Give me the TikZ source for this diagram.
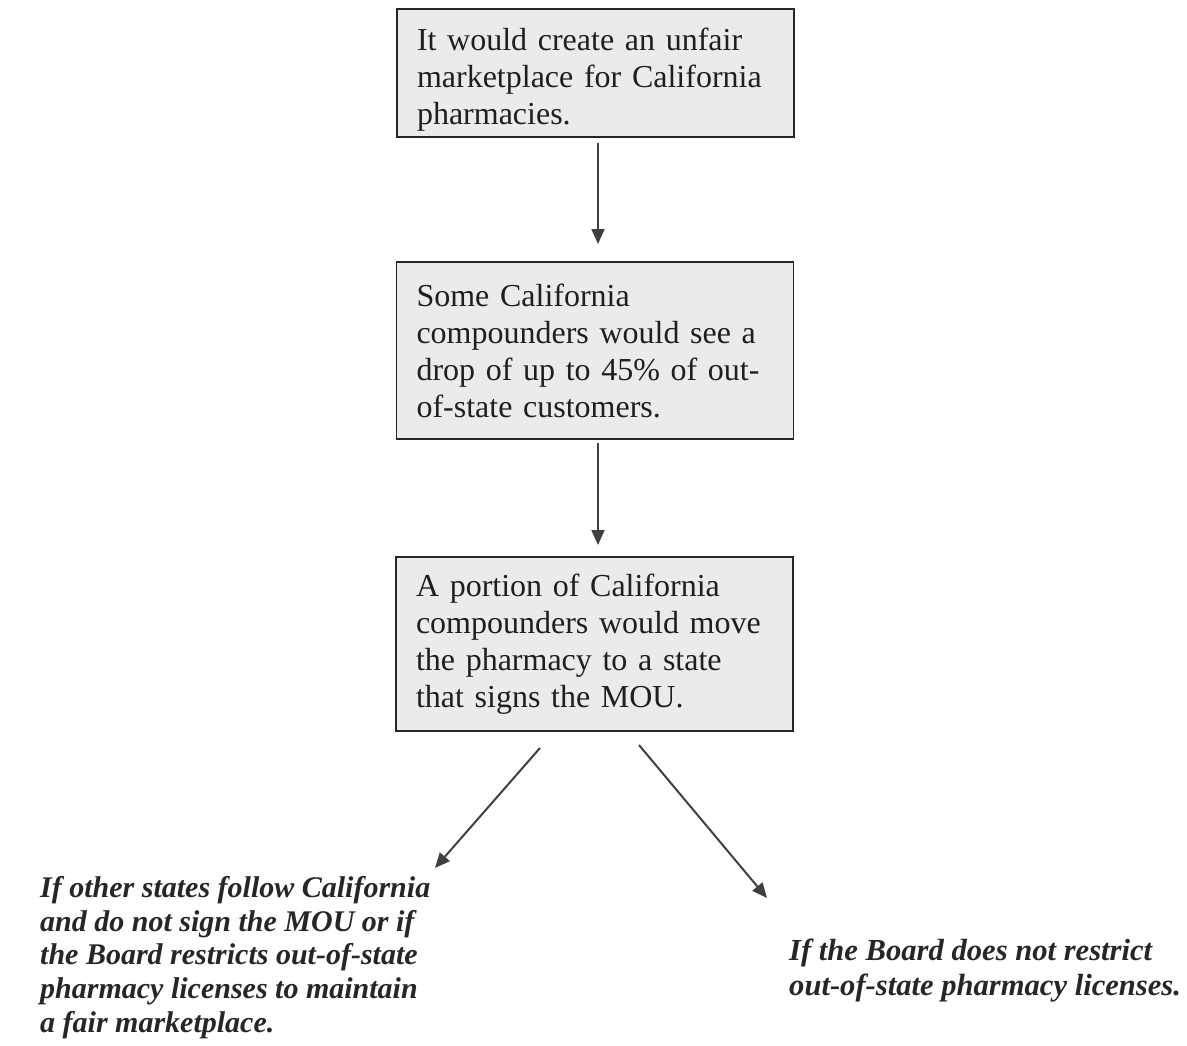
\documentclass[tikz,border=0pt]{standalone}
\usepackage{fontspec}
\setmainfont{Liberation Serif}
\usetikzlibrary{arrows.meta}
\begin{document}
\begin{tikzpicture}[x=1pt,y=-1pt,
  box/.style={draw=black!85, line width=1.8pt, fill=black!8, inner xsep=20pt, inner ysep=0pt,
    text width=357pt, align=left, font=\fontsize{32}{37}\selectfont, text=black!88},
  arr/.style={draw=black!75, line width=2pt, -{Triangle[width=13pt,length=15pt]}},
  cond/.style={font=\fontsize{30}{33.7}\selectfont\bfseries\itshape, align=left, inner sep=0pt, text=black!85}]
\useasboundingbox (0,0) rectangle (1187,1046);
\node[box, minimum height=128pt] (b1) at (595.5,73)
  {\rule{0pt}{36pt}It would create an unfair\\marketplace for California\\pharmacies.};
\node[box, minimum height=177pt] (b2) at (595,350.5)
  {Some California\\compounders would see a\\drop of up to 45\% of out-\\of-state customers.};
\node[box, minimum height=174pt] (b3) at (594.5,644)
  {A portion of California\\compounders would move\\the pharmacy to a state\\that signs the MOU.};
\node[cond, anchor=north west] (l1) at (40,876)
  {If other states follow California\\and do not sign the MOU or if\\the Board restricts out-of-state\\pharmacy licenses to maintain\\a fair marketplace.};
\node[cond, anchor=north west, font=\fontsize{30.6}{35}\selectfont\bfseries\itshape] (r1) at (789,939)
  {If the Board does not restrict\\out-of-state pharmacy licenses.};
\coordinate (a1s) at (598,143);
\coordinate (a1e) at (598,244);
\coordinate (a2s) at (598,443);
\coordinate (a2e) at (598,545);
\coordinate (lts) at (540,748);
\coordinate (lte) at (435,868);
\coordinate (rts) at (639,745);
\coordinate (rte) at (767,898);
\draw[arr] (a1s) -- (a1e);
\draw[arr] (a2s) -- (a2e);
\draw[arr] (lts) -- (lte);
\draw[arr] (rts) -- (rte);
\end{tikzpicture}
\end{document}
